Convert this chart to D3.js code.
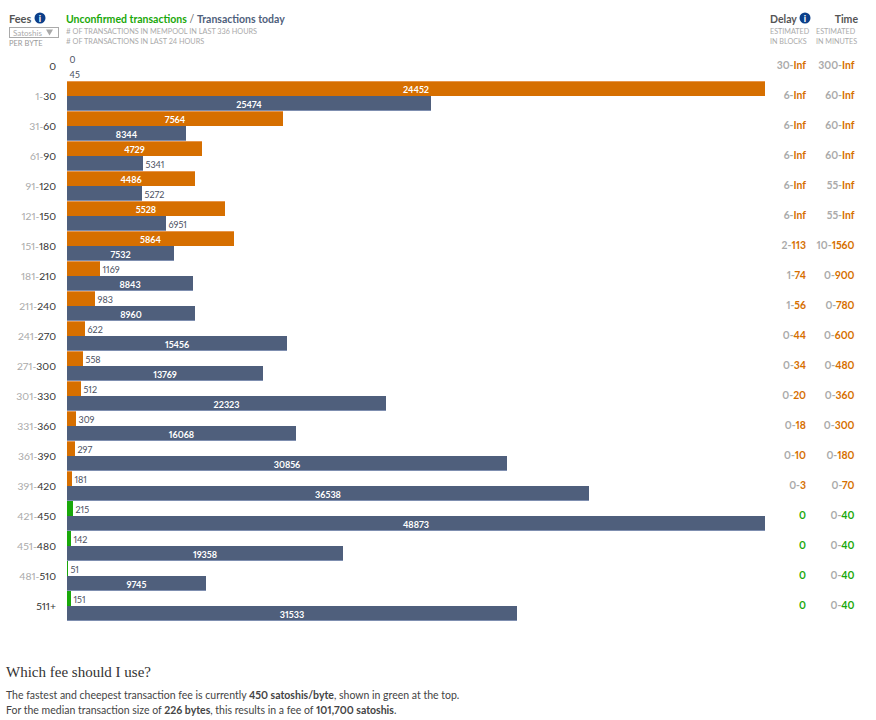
<!DOCTYPE html>
<html><head><meta charset="utf-8">
<script src="https://cdn.jsdelivr.net/npm/d3@7/dist/d3.min.js"></script>
<style>html,body{margin:0;padding:0;background:#fff}svg{display:block;font-family:"Lato","Open Sans",sans-serif;font-feature-settings:"pnum"}</style>
</head><body><svg id="c" width="876" height="720"></svg>
<script>
const fees=["0","1-30","31-60","61-90","91-120","121-150","151-180","181-210","211-240","241-270","271-300","301-330","331-360","361-390","391-420","421-450","451-480","481-510","511+"];
const unconfirmed=[0,24452,7564,4729,4486,5528,5864,1169,983,622,558,512,309,297,181,215,142,51,151];
const today=[45,25474,8344,5341,5272,6951,7532,8843,8960,15456,13769,22323,16068,30856,36538,48873,19358,9745,31533];
const delayLo=["30","6","6","6","6","6","2","1","1","0","0","0","0","0","0","0","0","0","0"];
const delayHi=["Inf","Inf","Inf","Inf","Inf","Inf","113","74","56","44","34","20","18","10","3","","","",""];
const timeLo=["300","60","60","60","55","55","10","0","0","0","0","0","0","0","0","0","0","0","0"];
const timeHi=["Inf","Inf","Inf","Inf","Inf","Inf","1560","900","780","600","480","360","300","180","70","40","40","40","40"];
const svg=d3.select("#c");
const ORANGE="#d66f00",ORANGE_EDGE="#e8964a",GREEN="#1aa80a",BLUE="#4f5f7c",BLUE_EDGE="#7f8fb0";
const xU=d3.scaleLinear().domain([0,d3.max(unconfirmed)]).range([67,765]);
const xT=d3.scaleLinear().domain([0,d3.max(today)]).range([67,765]);
const yRow=d3.scaleBand().domain(fees).range([51,621]);
const T=(x,y,s,o={})=>{const t=svg.append("text").attr("x",x).attr("y",y).text(s)
 .attr("font-size",o.size||10).attr("fill",o.fill||"#333").attr("font-weight",o.w||400)
 .attr("text-anchor",o.a||"start"); if(o.f) t.style("font-family",o.f); return t;};
const rows=svg.selectAll("g.row").data(fees).join("g").attr("class","row");
rows.each(function(f,i){
 const g=d3.select(this),y=yRow(f);
 const parts=f.split("-");
 const lab=g.append("text").attr("x",56).attr("y",y+18.5).attr("text-anchor","end").attr("font-size",10.4);
 if(parts.length>1){lab.append("tspan").attr("fill","#aaa").text(parts[0]+"-");lab.append("tspan").attr("fill","#333").text(parts[1]);}
 else lab.attr("fill","#333").text(f);
 const w1=Math.floor(xU(unconfirmed[i])-67+0.25),w2=Math.floor(xT(today[i])-67+0.25);
 const barCol=i>=15?GREEN:ORANGE;
 g.append("rect").attr("x",67).attr("y",y).attr("width",w1).attr("height",15).attr("fill",barCol);
 if(i<15) g.append("rect").attr("x",67).attr("y",y).attr("width",w1).attr("height",1).attr("fill",ORANGE_EDGE);
 g.append("rect").attr("x",67).attr("y",y+15).attr("width",w2).attr("height",15).attr("fill",BLUE);
 g.append("rect").attr("x",67).attr("y",y+29).attr("width",w2).attr("height",1).attr("fill",BLUE_EDGE);
 const lbl=(v,w,yy)=>{
  if(w>100) g.append("text").attr("x",67+w/2).attr("y",yy).attr("text-anchor","middle").attr("font-size",9).attr("font-weight",700).attr("fill","#fff").text(v);
  else g.append("text").attr("x",67+w+2.5).attr("y",yy).attr("font-size",9).attr("fill","#4a4f60").text(v);
 };
 lbl(unconfirmed[i],w1,y+12);
 lbl(today[i],w2,y+27);
 const range=(x,lo,hi,baseY)=>{
  const t=g.append("text").attr("x",x).attr("y",baseY).attr("text-anchor","end").attr("font-size",10.4).attr("font-weight",700);
  if(hi===""){t.attr("fill",GREEN).text(lo);return;}
  t.append("tspan").attr("fill","#aaa").text(lo+"-");t.append("tspan").attr("fill",i>=15?GREEN:ORANGE).text(hi);
 };
 range(806,delayLo[i],delayHi[i],y+18);
 range(854.5,timeLo[i],timeHi[i],y+18);
});
T(9,23,"Fees",{size:11,w:700,fill:"#555"});
const info=(cx,cy)=>{svg.append("circle").attr("cx",cx).attr("cy",cy).attr("r",5.5).attr("fill","#0b3f8a");
 svg.append("text").attr("x",cx).attr("y",cy+3.5).attr("text-anchor","middle").attr("font-size",9).attr("font-weight",900).attr("fill","#fff").text("i");};
info(40,18);info(805,18);
svg.append("rect").attr("x",9.5).attr("y",27.5).attr("width",49).attr("height",10).attr("fill","#fff").attr("stroke","#aaa");
T(13,36,"Satoshis",{size:8,fill:"#aaa"});
svg.append("path").attr("d","M46 29.5h7l-3.5 6z").attr("fill","#aaa");
T(9,46,"PER BYTE",{size:7.5,fill:"#999"});
const h=T(66,23,"",{size:10.5,w:700});
h.append("tspan").attr("fill",GREEN).text("Unconfirmed transactions");
h.append("tspan").attr("fill","#666").attr("font-weight",400).text(" / ");
h.append("tspan").attr("fill",BLUE).text("Transactions today");
T(66,34,"# OF TRANSACTIONS IN MEMPOOL IN LAST 336 HOURS",{size:7.3,fill:"#aaa"});
T(66,44,"# OF TRANSACTIONS IN LAST 24 HOURS",{size:7.3,fill:"#aaa"});
T(770,23,"Delay",{size:10.5,w:700,fill:"#555"});
T(858,23,"Time",{size:10.5,w:700,fill:"#555",a:"end"});
T(770,34,"ESTIMATED",{size:7.2,fill:"#aaa"});T(770,44,"IN BLOCKS",{size:7.2,fill:"#aaa"});
T(816,34,"ESTIMATED",{size:7.2,fill:"#aaa"});T(816,44,"IN MINUTES",{size:7.2,fill:"#aaa"});
T(6,677,"Which fee should I use?",{size:15,fill:"#333",f:"'Liberation Serif',serif"});
const p1=T(6,699,"",{size:10.5,fill:"#444"});
p1.append("tspan").text("The fastest and cheepest transaction fee is currently ");
p1.append("tspan").attr("font-weight",700).text("450 satoshis/byte");
p1.append("tspan").text(", shown in green at the top.");
const p2=T(6,714,"",{size:10.5,fill:"#444"});
p2.append("tspan").text("For the median transaction size of ");
p2.append("tspan").attr("font-weight",700).text("226 bytes");
p2.append("tspan").text(", this results in a fee of ");
p2.append("tspan").attr("font-weight",700).text("101,700 satoshis");
p2.append("tspan").text(".");
</script></body></html>
